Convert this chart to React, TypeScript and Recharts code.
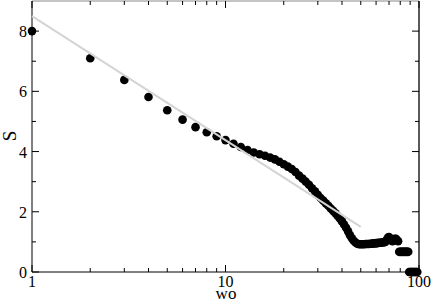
import { ScatterChart, Scatter, XAxis, YAxis } from "recharts";

// measured wo / S pairs
const woValues = [
  1, 2, 3, 4, 5, 6, 7, 8, 9, 10,
  11, 12, 13, 14, 15, 16, 17, 18, 19, 20,
  21, 22, 23, 24, 25, 26, 27, 28, 29, 30,
  31, 32, 33, 34, 35, 36, 37, 38, 39, 40,
  41, 42, 43, 44, 45, 46, 47, 48, 49, 50,
  51, 52, 53, 54, 55, 56, 57, 58, 59, 60,
  61, 62, 63, 64, 65, 66, 67, 68, 69, 70,
  71, 72, 73, 74, 75, 76, 77, 78, 79, 80,
  81, 82, 83, 84, 85, 86, 87, 88, 89, 90,
  91, 92, 93, 94, 95, 96, 97, 98,
];
const sValues = [
  8.0, 7.1, 6.38, 5.81, 5.37, 5.06, 4.81, 4.64, 4.51, 4.38,
  4.26, 4.15, 4.05, 3.97, 3.91, 3.86, 3.8, 3.74, 3.66, 3.58,
  3.5, 3.42, 3.32, 3.2, 3.1, 3.0, 2.9, 2.78, 2.68, 2.56,
  2.46, 2.37, 2.28, 2.2, 2.11, 2.03, 1.95, 1.86, 1.78, 1.68,
  1.58, 1.47, 1.35, 1.22, 1.12, 1.04, 0.98, 0.94, 0.92, 0.92,
  0.92, 0.92, 0.93, 0.93, 0.93, 0.94, 0.94, 0.95, 0.95, 0.96,
  0.96, 0.97, 0.97, 0.98, 0.98, 0.99, 1.0, 1.06, 1.14, 1.16,
  1.12, 1.05, 1.02, 1.06, 1.1, 1.1, 1.06, 1.02, 0.67, 0.67,
  0.67, 0.67, 0.67, 0.67, 0.67, 0.67, 0.67, 0.67, 0, 0,
  0, 0, 0, 0, 0, 0, 0, 0,
];

// straight-line fit drawn in grey
const fitWo = [1, 50];
const fitS = [8.5, 1.5];

const xTicks = [1, 2, 3, 4, 5, 6, 7, 8, 9, 10, 20, 30, 40, 50, 60, 70, 80, 90, 100];
const xMajor = [1, 10, 100];
const yTicks = [0, 1, 2, 3, 4, 5, 6, 7, 8];
const yMajor = [0, 2, 4, 6, 8];

const points = woValues.map((wo, i) => ({ wo, s: sValues[i] }));
const fit = fitWo.map((wo, i) => ({ wo, s: fitS[i] }));

const FONT = "'Liberation Serif', 'Times New Roman', 'DejaVu Serif', serif";

const XTick = (props: any) => {
  const { x, y, payload, side } = props;
  const major = xMajor.includes(payload.value);
  const len = major ? 7 : 4;
  const dir = side === "top" ? 1 : -1;
  return (
    <g>
      <line x1={x} x2={x} y1={y} y2={y + dir * len} stroke="#000" />
      {side === "bottom" && major && (
        <text x={x} y={y + 15} textAnchor="middle" fill="#000" style={{ fontFamily: FONT, fontSize: 16 }}>
          {payload.value}
        </text>
      )}
    </g>
  );
};

const YTick = (props: any) => {
  const { x, y, payload, side } = props;
  const major = yMajor.includes(payload.value);
  const len = major ? 7 : 4;
  const dir = side === "left" ? 1 : -1;
  return (
    <g>
      <line x1={x} x2={x + dir * len} y1={y} y2={y} stroke="#000" />
      {side === "left" && major && (
        <text x={x - 5} y={y + 6} textAnchor="end" fill="#000" style={{ fontFamily: FONT, fontSize: 16 }}>
          {payload.value}
        </text>
      )}
    </g>
  );
};

const Dot = (p: any) => <circle cx={p.cx} cy={p.cy} r={4.3} fill="#000" />;
const NoDot = () => <g />;

export default function App() {
  return (
    <div style={{ position: "absolute", left: 0, top: 0, background: "#fff" }}>
      <ScatterChart width={432} height={303} margin={{ top: 0, right: 12, bottom: 0, left: 0 }}>
        <XAxis
          dataKey="wo"
          type="number"
          scale="log"
          domain={[1, 100]}
          ticks={xTicks}
          interval={0}
          height={31}
          tickSize={0}
          tickMargin={0}
          tickLine={false}
          axisLine={{ stroke: "#000" }}
          tick={<XTick side="bottom" />}
          label={{
            content: () => (
              <text x={226} y={299} textAnchor="middle" fill="#000" style={{ fontFamily: FONT, fontSize: 17 }}>
                wo
              </text>
            ),
          }}
        />
        <XAxis
          xAxisId="top"
          dataKey="wo"
          orientation="top"
          type="number"
          scale="log"
          domain={[1, 100]}
          ticks={xTicks}
          interval={0}
          height={1}
          tickSize={0}
          tickMargin={0}
          tickLine={false}
          axisLine={{ stroke: "#888" }}
          tick={<XTick side="top" />}
        />
        <YAxis
          dataKey="s"
          type="number"
          domain={[0, 9]}
          ticks={yTicks}
          interval={0}
          width={32}
          tickSize={0}
          tickMargin={0}
          tickLine={false}
          axisLine={{ stroke: "#000" }}
          tick={<YTick side="left" />}
          label={{
            content: () => (
              <text
                x={15.5}
                y={136}
                textAnchor="middle"
                fill="#000"
                style={{ fontFamily: FONT, fontSize: 19 }}
                transform="rotate(-90, 15.5, 136)"
              >
                S
              </text>
            ),
          }}
        />
        <YAxis
          yAxisId="right"
          dataKey="s"
          orientation="right"
          type="number"
          domain={[0, 9]}
          ticks={yTicks}
          interval={0}
          width={1}
          tickSize={0}
          tickMargin={0}
          tickLine={false}
          axisLine={{ stroke: "#000", strokeWidth: 1.3 }}
          tick={<YTick side="right" />}
        />
        <Scatter data={points} shape={Dot} isAnimationActive={false} />
        <Scatter
          data={fit}
          xAxisId="top"
          yAxisId="right"
          shape={NoDot}
          line={{ stroke: "#d4d4d4", strokeWidth: 2 }}
          isAnimationActive={false}
        />
      </ScatterChart>
    </div>
  );
}
